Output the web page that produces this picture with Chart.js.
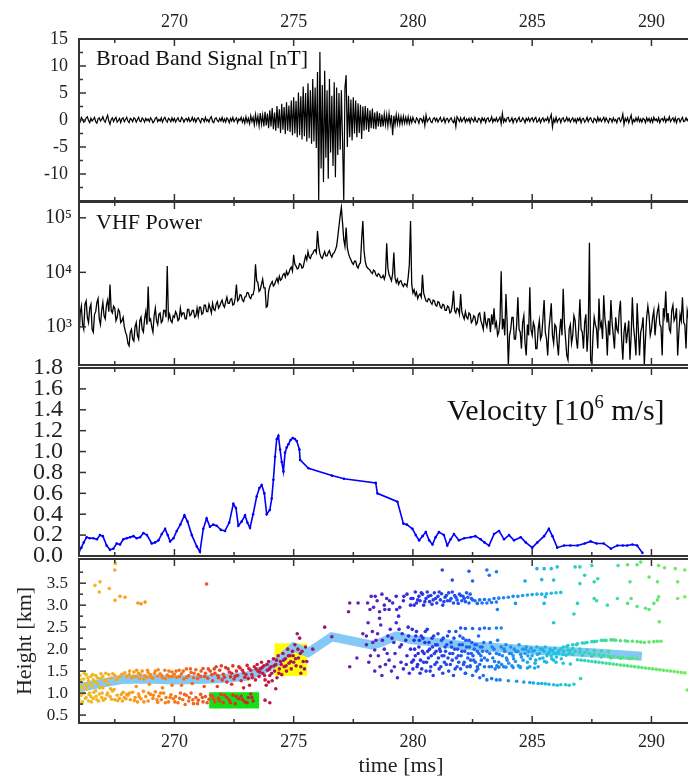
<!DOCTYPE html>
<html>
<head>
<meta charset="utf-8">
<script src="https://cdn.jsdelivr.net/npm/chart.js@4.4.1/dist/chart.umd.min.js"></script>
<style>
  html, body { margin: 0; padding: 0; background: #fff; overflow: hidden; width: 688px; height: 777px; }
  #wrap { position: relative; width: 730px; height: 777px; }
  canvas { position: absolute; left: 0; top: 0; }
  .lbl { position: absolute; font-family: "Liberation Serif", serif; color: #111; white-space: nowrap; line-height: 1; }
  .lbl sup { font-size: 0.62em; vertical-align: 0.62em; }
</style>
</head>
<body>
<div id="wrap">
  <canvas id="c1" width="730" height="777"></canvas>
  <canvas id="c2" width="730" height="777"></canvas>
  <canvas id="c3" width="730" height="777"></canvas>
  <canvas id="c4" width="730" height="777"></canvas>
  <div class="lbl" style="left:96px; top:47px; font-size:22px;">Broad Band Signal [nT]</div>
  <div class="lbl" style="left:96px; top:211px; font-size:22px;">VHF Power</div>
  <div class="lbl" style="left:447px; top:393px; font-size:30px;">Velocity [10<sup>6</sup> m/s]</div>
</div>
<script>
//----------------------------------DATA-------------------------------------

// shared time axis [ms]
const timeTicks = [270, 275, 280, 285, 290];
const timeMinor = [267.5, 272.5, 277.5, 282.5, 287.5, 292.5];

// broad band signal [nT], one sample every 0.05 ms from 266.0 ms (one row = 1 ms)
const bbStart = 266.0;
const bbStep = 0.05;
const bbSignal = [
  0.2,-0.3,0.5,0.1,-0.4,-0.2,0.4,0.6,-0.1,-0.5,0.3,-0.2,0.1,0.5,-0.3,-0.6,0.2,0.4,-0.2,0.1,
  0.6,-0.1,-0.4,0.3,0.9,-0.2,-0.8,0.1,0.4,-0.3,0.2,0.5,-0.4,-0.1,0.3,-0.5,0.2,0.4,-0.3,0.1,
  0.5,-0.2,-0.5,0.3,0.1,-0.3,0.4,0.2,-0.4,0.1,0.5,-0.2,-0.3,0.4,0.1,-0.4,0.3,-0.1,0.2,-0.3,
  0.4,0.1,-0.5,-0.2,0.3,0.5,-0.3,0.1,-0.2,0.4,-0.4,0.2,0.5,-0.1,-0.4,0.3,0.1,-0.3,0.4,-0.2,
  0.3,-0.4,0.1,0.4,-0.2,-0.3,0.5,0.2,-0.4,0.1,0.3,-0.2,0.4,-0.3,-0.1,0.5,-0.2,0.3,-0.4,0.2,
  0.4,-0.1,-0.5,0.3,0.2,-0.3,0.5,-0.2,0.1,-0.4,0.3,0.6,-0.3,-0.5,0.2,0.4,-0.1,-0.3,0.3,-0.2,
  0.5,-0.3,0.2,-0.4,0.4,0.1,-0.5,0.3,-0.2,0.5,-0.3,0.1,0.4,-0.5,0.2,-0.1,0.5,-0.4,0.3,-0.6,
  0.6,-0.4,0.3,-0.7,0.8,-0.3,0.5,-0.9,1.0,-0.6,0.7,-1.1,1.3,-0.8,0.9,-1.2,1.5,-1.0,1.2,-1.5,
  1.8,-1.2,2.2,-1.7,1.4,-2.0,2.6,-1.5,2.0,-2.4,3.0,-1.8,2.4,-2.6,3.3,-2.0,2.7,-2.2,3.6,-2.8,
  4.2,-2.5,3.5,-3.2,5.1,-2.8,4.4,-3.6,6.2,-3.0,5.0,-4.0,6.8,-3.4,5.5,-4.4,7.6,-4.0,6.0,-5.2,
  8.9,-15,12.6,-9.0,6.5,-11.5,9.1,-7.0,5.5,-10.9,7.6,-6.0,4.5,-8.5,7.0,-10.6,6.0,-6.5,5.0,-5.5,
  5.5,-4.0,-15,6.0,8.3,-5.0,4.5,-3.2,3.8,-3.8,4.2,-2.5,3.6,-3.2,3.1,-2.4,2.8,-3.5,2.5,-2.0,
  2.6,-1.8,2.2,-2.2,1.8,-1.5,2.1,-1.6,1.4,-1.7,1.6,-1.2,1.3,-1.3,1.0,-1.2,1.1,-0.9,1.0,-1.1,
  1.2,-0.8,0.9,-2.8,0.8,-0.9,1.0,-0.7,0.8,-0.8,0.6,-0.7,0.7,-0.6,0.5,-0.6,0.6,-0.7,0.4,-0.5,
  0.5,-0.2,-0.5,0.4,0.1,-0.6,0.3,0.2,-0.4,0.5,-1.0,0.9,-0.3,0.1,0.4,-0.3,-0.5,0.2,0.4,-0.2,
  0.3,-0.4,0.1,0.5,-0.3,-0.1,0.4,-0.5,0.2,0.3,-0.4,0.1,0.4,-0.2,-0.5,0.3,-1.2,0.6,0.2,-0.3,
  0.4,-0.3,0.1,0.5,-0.4,0.2,-0.2,0.3,-0.5,0.4,0.1,-0.3,0.5,-0.2,-0.4,0.3,0.2,-0.5,0.4,-0.1,
  0.3,-0.5,0.2,0.4,-0.3,-0.1,0.6,-0.4,0.2,-0.2,0.4,-0.3,0.1,0.5,-0.7,1.2,-0.4,0.2,-0.3,0.4,
  0.5,-0.3,-0.1,0.4,-0.5,0.2,0.3,-0.4,0.1,0.5,-0.3,-0.2,0.4,0.1,-0.5,0.3,-0.1,0.4,-0.3,0.2,
  0.4,-0.3,0.2,0.5,-0.4,-0.2,0.3,-0.5,0.1,0.4,-0.3,0.2,-0.1,0.5,-0.4,0.3,1.0,-1.3,0.2,-0.4,
  0.5,-0.4,0.1,0.3,-0.5,0.2,0.4,-0.3,-0.1,0.5,-0.2,0.3,-0.4,0.1,0.4,-0.3,0.2,-0.5,0.3,-0.1,
  0.4,-0.5,0.2,0.3,-0.4,-0.1,0.5,-0.3,0.2,0.4,-0.2,-0.5,0.3,0.1,-0.4,0.5,-0.2,0.3,-0.3,0.1,
  0.5,-0.3,0.4,-0.1,-0.5,0.3,0.2,-0.4,0.4,-0.2,0.1,-0.5,0.3,0.4,-0.3,0.1,1.1,-0.8,0.3,-0.2,
  0.4,-0.5,0.2,0.9,-0.6,0.1,-0.3,0.4,-0.2,0.5,-0.3,0.2,-0.4,0.3,0.1,-0.5,0.4,-0.2,0.3,-0.4,
  0.3,-0.4,0.5,-0.1,0.2,-0.3,0.4,-0.5,0.1,0.3,-0.2,0.5,-0.4,0.2,-0.1,0.6,-0.3,0.1,0.4,-0.3,
  0.4,-0.5,0.2,0.3,-0.4,0.1,0.5,-0.3,-0.2,0.4,-0.1,0.3,-0.5,0.2,0.4,-0.3,0.1,-0.4,0.3,-0.2
];
const bbTicks = [15, 10, 5, 0, -5, -10];
const bbMinor = [12.5, 7.5, 2.5, -2.5, -7.5, -12.5];

// VHF power, one sample every 0.05 ms from 266.0 ms (one row = 1 ms)
const vhfStart = 266.0;
const vhfStep = 0.05;
const vhfPower = [
  600,1800,2400,1100,900,2600,3000,1500,1200,2200,2600,900,800,1700,1900,2800,3300,1400,1100,2000,
  2800,1600,1400,2500,3100,1900,6000,2000,1800,2400,2200,1300,1500,2100,1900,1200,1300,1500,1000,800,
  700,500,450,800,900,600,550,1000,1200,700,600,1300,1500,900,800,1400,1900,1100,5500,1300,
  1400,1000,800,1600,2200,1300,1100,1700,1800,1200,1300,2000,2000,1500,13000,1400,1700,1300,1200,1600,
  1500,1900,1700,1300,1400,2200,1600,1800,1800,1400,1400,2100,2100,1600,1700,2000,2000,1500,1600,2200,
  1600,2300,2300,1700,1800,2500,2500,1900,1900,2600,2200,1800,2700,2100,2000,2600,2900,2200,2400,2800,
  3100,2500,2300,2900,3500,2700,2700,3200,3300,2500,2600,3400,6000,3000,3200,3900,3800,3100,2900,3500,
  3600,4300,4200,3500,3300,3900,3900,5000,14000,7000,6500,4500,4800,6000,7500,5200,5200,2300,2400,4500,
  5500,6200,6800,5600,6000,7000,7800,6500,8500,7200,7600,9000,9500,8200,10500,9000,9800,11500,12500,10500,
  21000,14000,13000,11500,12000,14500,14000,12000,12500,16000,20000,17000,24000,19000,18000,21000,22000,25000,26000,23000,
  57000,30000,22000,19000,18000,21000,24000,20000,20000,23000,25000,21000,19000,22000,23000,26000,30000,45000,70000,110000,
  155000,80000,40000,30000,66000,28000,22000,19000,17000,15000,14000,16000,16000,13000,12000,14000,15000,40000,87000,25000,
  16000,13000,12000,11500,11000,10000,9500,11000,10500,9000,8500,9500,9000,8000,8000,8800,7500,9000,34000,12000,
  9000,8000,7000,9500,23000,8000,6500,7500,6000,6800,7000,6000,5500,6200,6000,5500,8000,14000,87000,6000,
  4200,4800,3800,4300,3300,3800,4000,3500,9000,4200,3500,3000,2900,3300,3200,2800,2600,3100,3000,2500,
  2400,2900,2800,2300,2200,2600,2500,2000,2000,2400,2300,1800,1900,2500,4600,2000,1800,2200,2100,1700,
  4000,1900,1600,1400,1900,1500,1400,1800,1700,1200,1300,1600,1500,1100,1200,1700,1800,1300,1100,900,
  1900,1200,1000,1400,1400,800,1700,1100,2200,1000,1200,700,800,1300,10500,900,1400,700,4000,1200,
  200,700,900,1500,1500,600,600,1100,3500,900,800,400,1200,1600,500,300,1100,700,5300,900,
  700,1200,1000,400,400,900,1300,600,700,1400,3100,800,600,300,900,1500,2700,700,500,1100,
  1000,500,300,800,1400,700,5000,1200,600,300,250,900,1100,500,700,1600,1300,600,400,1000,
  3200,900,800,400,1200,1700,350,800,35000,250,200,700,1500,1100,900,400,3300,1000,1200,600,
  3800,1400,900,300,1300,700,3100,1200,700,400,1500,900,800,1900,3000,600,250,800,1200,500,
  800,1300,250,700,3500,1000,600,300,2700,900,300,800,1000,1500,200,600,1500,2400,1600,700,
  900,1500,2000,700,1300,1900,2400,1100,1000,300,2200,1600,4500,1200,1800,900,800,2000,2500,1300,
  1500,2200,300,800,1700,1300,3500,1200,1100,400,2000,1500,900,1800,1800,700,700,1400,1500,1000
];
const vhfTicks = [1e3, 1e4, 1e5];

// velocity [10^6 m/s]: [time ms, value]
const velocity = [
  [266.0,0.04],[266.1,0.08],[266.2,0.13],[266.32,0.18],[266.45,0.17],[266.6,0.17],[266.75,0.16],[266.88,0.2],
  [267.0,0.19],[267.16,0.1],[267.3,0.06],[267.44,0.07],[267.58,0.12],[267.72,0.11],[267.86,0.16],[268.0,0.17],
  [268.14,0.18],[268.28,0.19],[268.42,0.17],[268.56,0.18],[268.7,0.22],[268.85,0.2],[269.05,0.12],[269.19,0.13],
  [269.33,0.15],[269.47,0.21],[269.61,0.26],[269.72,0.2],[269.82,0.14],[269.96,0.17],[270.1,0.24],[270.25,0.3],
  [270.42,0.39],[270.55,0.33],[270.73,0.2],[270.94,0.09],[271.07,0.04],[271.21,0.26],[271.35,0.36],[271.49,0.28],
  [271.63,0.3],[271.77,0.29],[271.95,0.25],[272.12,0.24],[272.3,0.32],[272.47,0.5],[272.58,0.46],[272.68,0.29],
  [272.82,0.33],[272.96,0.39],[273.06,0.32],[273.17,0.27],[273.3,0.4],[273.45,0.57],[273.56,0.65],[273.66,0.68],
  [273.77,0.6],[273.87,0.4],[274.0,0.44],[274.08,0.55],[274.15,0.73],[274.22,0.95],[274.29,1.12],[274.36,1.15],
  [274.43,1.02],[274.5,0.9],[274.57,0.81],[274.64,0.99],[274.71,1.04],[274.78,1.07],[274.87,1.11],[274.96,1.13],
  [275.05,1.12],[275.13,1.1],[275.24,1.02],[275.27,0.92],[275.62,0.84],[276.6,0.77],[277.11,0.74],[278.44,0.7],
  [278.51,0.6],[279.35,0.52],[279.6,0.31],[279.75,0.3],[279.98,0.26],[280.12,0.2],[280.26,0.15],[280.4,0.19],
  [280.54,0.23],[280.68,0.15],[280.82,0.11],[280.95,0.18],[281.09,0.23],[281.3,0.2],[281.44,0.1],[281.58,0.16],
  [281.72,0.21],[281.93,0.15],[282.15,0.17],[282.42,0.18],[282.62,0.19],[282.84,0.16],[283.0,0.13],[283.19,0.1],
  [283.4,0.21],[283.61,0.24],[283.82,0.16],[284.03,0.2],[284.24,0.15],[284.52,0.18],[284.73,0.13],[285.0,0.08],
  [285.22,0.13],[285.5,0.19],[285.7,0.26],[285.85,0.19],[286.05,0.08],[286.34,0.1],[286.6,0.1],[286.9,0.1],
  [287.2,0.12],[287.45,0.14],[287.7,0.12],[288.0,0.12],[288.3,0.07],[288.57,0.1],[288.8,0.1],[288.99,0.1],
  [289.2,0.11],[289.4,0.1],[289.62,0.03]
];
const velTicks = [0, 0.2, 0.4, 0.6, 0.8, 1.0, 1.2, 1.4, 1.6, 1.8];

// source heights [km]: [time ms, height]
const heightPts = [
  [266.0,0.85],[266.0,1.05],[266.0,1.25],[266.05,1.4],[266.1,0.95],[266.1,1.15],[266.15,0.8],[266.2,1.32],[266.2,1.0],
  [266.25,1.2],[266.3,0.9],[266.3,1.42],[266.35,1.1],[266.4,0.82],[266.4,1.28],[266.45,1.0],[266.5,1.38],[266.5,0.92],
  [266.55,1.15],[266.6,0.88],[266.6,1.3],[266.7,1.05],[266.7,1.4],[266.75,0.85],[266.8,1.22],[266.85,0.98],[266.9,1.33],
  [266.95,0.9],[267.0,1.12],[267.0,1.38],[267.1,0.87],[267.15,1.3],[267.2,1.0],[267.25,1.42],[267.3,0.92],[267.35,1.34],
  [267.4,1.05],[267.5,0.85],[267.5,1.4],[267.6,0.95],[267.65,1.36],[267.7,0.88],[267.8,1.43],[267.85,1.02],[267.9,0.9],
  [268.0,1.38],[268.0,0.97],
  [266.02,0.95],[266.07,1.3],[266.12,0.78],[266.17,1.1],[266.22,1.45],[266.27,0.88],[266.32,1.18],[266.37,1.35],
  [266.42,0.97],[266.47,1.22],[266.52,0.8],[266.57,1.42],[266.62,1.02],[266.67,1.25],[266.72,0.93],[266.77,1.35],
  [266.82,0.82],[266.87,1.12],[266.92,1.44],[266.97,1.0],[267.02,0.84],[267.07,1.27],[267.12,1.45],[267.17,0.96],
  [267.22,1.2],[267.32,1.1],[267.37,0.86],[267.42,1.44],[267.47,1.08],[267.57,1.3],[267.62,0.83],[267.72,1.38],
  [267.77,0.97],[267.82,0.82],[267.92,1.46],[267.97,0.87],
  [266.67,3.45],[266.88,3.53],[266.85,3.3],[267.27,3.38],[267.51,3.11],[267.5,3.8],[267.52,3.95],[267.72,3.2],
  [267.93,3.18],[268.47,3.05],[268.6,3.03],[268.77,3.07],
  [268.1,1.42],[268.2,1.35],[268.3,1.48],[268.4,1.38],[268.5,1.45],[268.55,1.33],[268.65,1.5],[268.75,1.4],[268.85,1.36],
  [268.9,1.47],[269.0,1.42],[269.1,1.34],[269.2,1.5],[269.3,1.39],[269.4,1.44],[269.5,1.35],[269.6,1.52],[269.7,1.41],
  [269.8,1.37],[269.9,1.48],[270.0,1.43],
  [268.12,1.5],[268.27,1.38],[268.42,1.52],[268.57,1.42],[268.72,1.32],[268.87,1.52],[269.02,1.36],[269.17,1.45],
  [269.32,1.53],[269.47,1.4],[269.62,1.33],[269.77,1.5],[269.92,1.38],[270.07,1.5],[270.22,1.38],[270.37,1.5],
  [270.52,1.36],[270.67,1.55],[270.82,1.45],[270.97,1.33],[271.12,1.5],[271.27,1.38],[271.42,1.55],
  [268.05,0.95],[268.15,0.85],[268.25,1.02],[268.35,0.9],[268.45,0.8],[268.5,0.98],[268.6,0.87],[268.7,1.04],[268.8,0.92],
  [268.9,0.82],[269.0,0.97],[269.1,0.88],[269.2,1.03],[269.3,0.79],[269.35,0.93],[269.45,0.85],[269.55,1.0],[269.65,0.9],
  [269.75,0.8],[269.85,0.96],[269.95,0.87],
  [268.12,1.0],[268.32,0.83],[268.52,0.92],[268.72,0.8],[268.92,1.0],[269.12,0.95],[269.27,0.85],[269.42,1.0],
  [269.62,0.78],[269.82,0.9],[270.02,0.8],[270.22,0.88],[270.42,0.97],[270.62,0.9],[270.77,0.85],[270.97,0.76],
  [271.17,0.9],[271.37,0.78],[271.52,0.95],
  [268.4,1.15],[268.95,1.2],[269.5,1.12],[269.9,1.18],
  [270.1,1.36],[270.2,1.52],[270.3,1.44],[270.4,1.32],[270.5,1.55],[270.6,1.4],[270.7,1.47],[270.8,1.35],[270.9,1.53],
  [271.0,1.42],[271.1,1.38],[271.2,1.56],[271.3,1.45],[271.4,1.34],[271.5,1.5],
  [270.05,0.92],[270.15,0.78],[270.25,1.0],[270.35,0.85],[270.45,0.74],[270.5,0.95],[270.6,0.82],[270.7,1.0],[270.8,0.76],
  [270.9,0.9],[271.0,0.84],[271.1,0.97],[271.2,0.8],[271.3,0.92],[271.45,0.86],
  [270.3,1.18],[270.75,1.22],[271.25,1.15],[271.35,3.48],
  [271.6,1.28],[271.7,1.45],[271.75,1.6],[271.85,1.35],[271.9,1.52],[272.0,1.3],[272.05,1.43],[272.15,1.58],[272.2,1.25],
  [272.3,1.48],[272.35,1.37],[272.45,1.62],[272.5,1.32],[272.6,1.5],[272.65,1.4],[272.75,1.57],[272.8,1.28],[272.9,1.46],
  [272.95,1.36],[273.05,1.63],[273.1,1.33],[273.2,1.52],[273.25,1.42],[273.35,1.6],[273.4,1.3],[273.5,1.5],
  [271.57,1.42],[271.67,1.55],[271.82,1.4],[271.97,1.62],[272.1,1.36],[272.25,1.55],[272.4,1.45],[272.55,1.38],
  [272.7,1.6],[272.85,1.52],[273.0,1.42],[273.12,1.56],[273.27,1.35],[273.42,1.55],[273.47,1.65],
  [271.6,0.92],[271.7,0.8],[271.85,0.88],[271.95,0.97],[272.05,0.78],[272.2,0.9],[272.3,0.84],[272.45,0.95],[272.55,0.76],
  [272.7,0.87],[272.8,0.93],[272.95,0.8],[273.1,0.9],[273.2,0.98],[273.3,0.82],
  [271.65,0.86],[271.9,0.82],[272.1,0.95],[272.35,0.78],[272.6,0.92],[272.85,0.85],[273.05,0.78],[273.25,0.9],
  [271.8,1.15],[272.4,1.2],[272.9,1.12],[273.15,1.18],
  [273.55,1.38],[273.6,1.55],[273.65,1.7],[273.7,1.45],[273.75,1.62],[273.8,1.3],[273.8,0.84],[273.85,1.18],[273.9,1.52],
  [273.95,1.72],[274.0,1.4],[274.0,0.78],[274.05,1.6],[274.1,1.28],[274.15,1.78],[274.2,1.5],[274.25,1.65],[274.3,1.35],
  [274.35,1.85],[274.4,1.55],[274.45,1.72],[274.5,1.42],[274.55,1.9],[274.6,1.6],[274.65,1.78],[274.7,1.5],[274.75,2.0],
  [274.8,1.68],[274.85,1.85],[274.9,1.55],[274.95,1.95],[275.0,1.7],[275.05,2.1],[275.1,1.62],[275.15,2.35],[275.2,1.8],
  [275.25,2.25],[275.3,1.6],[275.35,1.95],[275.45,1.55],[275.55,1.72],[275.3,1.45],[273.95,1.25],[274.25,1.1],
  [273.58,1.48],[273.68,1.58],[273.78,1.4],[273.88,1.65],[273.98,1.55],[274.08,1.45],[274.18,1.62],[274.28,1.75],
  [274.38,1.45],[274.48,1.65],[274.58,1.75],[274.68,1.62],[274.78,1.85],[274.88,1.72],[274.98,1.85],[275.08,1.78],
  [275.18,2.0],[275.28,1.9],[275.4,1.72],[275.5,2.05],
  [275.8,2.0],[276.3,2.5],[276.6,2.28],[277.3,2.85],[277.35,3.05],[277.7,3.05],[277.35,1.6],[277.65,1.8],[277.9,2.35],
  [278.05,2.3],[278.2,2.9],[278.4,1.98],
  [278.1,3.05],[278.25,3.2],[278.35,2.95],[278.5,3.1],[278.6,2.85],[278.7,3.25],[278.8,3.0],[278.9,3.15],[279.0,2.9],
  [279.15,3.05],[279.3,3.2],[279.45,2.95],[279.6,3.1],[279.75,3.25],[279.9,3.0],
  [278.05,2.1],[278.15,1.7],[278.3,2.4],[278.4,1.5],[278.45,2.2],[278.55,1.85],[278.65,2.55],[278.7,1.4],[278.8,2.0],
  [278.85,1.65],[278.95,2.3],[279.0,1.75],[279.05,2.45],[279.1,1.5],[279.2,2.15],[279.25,1.9],[279.3,2.6],[279.35,1.35],
  [279.45,2.05],[279.5,1.7],[279.55,2.35],[279.6,1.55],[279.7,2.2],[279.75,1.85],[279.8,2.5],[279.85,1.45],[279.9,2.0],
  [279.95,1.7],[278.6,2.7],[279.4,2.75],
  [278.12,2.6],[278.22,1.85],[278.32,2.15],[278.42,3.2],[278.52,2.35],[278.62,1.6],[278.72,2.2],[278.82,2.9],
  [278.92,1.9],[279.02,3.1],[279.12,2.25],[279.22,1.6],[279.32,2.9],[279.42,2.45],[279.52,2.1],[279.62,3.2],
  [279.72,1.65],[279.82,2.3],[279.92,3.15],[279.97,2.45],
  [280.0,3.15],[280.1,3.3],[280.15,3.05],[280.25,3.2],[280.3,3.1],[280.4,3.25],[280.45,3.0],[280.55,3.15],[280.6,3.3],
  [280.7,3.08],[280.75,3.22],[280.85,3.12],[280.9,3.28],[281.0,3.05],[281.05,3.2],[281.15,3.12],[281.2,3.26],[281.3,3.08],
  [281.35,3.18],[281.45,3.1],[281.5,3.28],[281.6,3.15],[281.7,3.05],[281.75,3.22],[281.85,3.12],[281.95,3.25],[282.05,3.1],
  [282.1,3.2],[282.2,3.08],[282.3,3.18],[282.4,3.25],[282.5,3.12],
  [280.05,3.0],[280.2,3.12],[280.35,3.28],[280.5,3.08],[280.65,3.2],[280.8,3.02],[280.95,3.15],[281.1,3.3],[281.25,3.0],
  [281.4,3.22],[281.55,3.1],[281.65,3.3],[281.8,3.18],[281.9,3.04],[282.0,3.22],[282.15,3.15],[282.25,3.28],[282.35,3.05],
  [282.45,3.15],
  [282.6,3.1],[282.8,3.12],[283.0,3.13],[283.2,3.12],[283.4,3.15],[283.6,3.16],[283.8,3.17],[284.0,3.18],[284.2,3.2],
  [284.4,3.2],[284.6,3.22],[284.8,3.23],[285.0,3.24],[285.2,3.25],[285.4,3.25],[285.6,3.26],[285.8,3.27],[286.0,3.28],
  [286.2,3.29],[282.7,3.04],[282.9,3.05],[283.1,3.05],[283.3,3.06],[283.5,3.07],
  [280.0,1.55],[280.05,2.2],[280.1,1.85],[280.15,2.4],[280.2,1.65],[280.25,2.05],[280.3,1.45],[280.35,2.3],[280.4,1.95],
  [280.45,1.7],[280.5,2.15],[280.55,1.5],[280.6,2.45],[280.65,1.8],[280.7,2.0],[280.75,1.6],[280.8,2.25],[280.85,1.4],
  [280.9,1.9],[280.95,2.1],[281.0,1.7],[281.05,2.35],[281.1,1.55],[281.15,1.95],[281.2,2.2],[281.25,1.45],[281.3,1.85],
  [281.35,2.05],[281.4,1.65],[281.45,2.3],[281.5,1.5],[281.55,1.9],[281.6,2.15],[281.65,1.75],[281.7,1.4],[281.75,2.0],
  [281.8,2.4],[281.85,1.6],[281.9,1.85],[281.95,2.1],[282.0,1.55],[282.05,1.95],[282.1,2.25],[282.15,1.7],[282.2,1.45],
  [282.25,2.05],[282.3,1.8],[282.35,2.2],[282.4,1.6],[282.45,1.9],[282.5,2.47],[282.55,1.75],[282.6,2.1],[282.65,1.5],
  [282.7,1.95],[282.75,2.3],[282.8,1.65],[282.85,1.85],[282.9,2.05],[282.95,1.4],[283.0,2.48],[283.0,1.8],
  [280.02,1.75],[280.07,2.0],[280.12,2.3],[280.17,1.6],[280.22,1.9],[280.27,2.2],[280.32,1.75],[280.37,1.55],
  [280.42,2.25],[280.47,1.9],[280.52,2.4],[280.57,1.7],[280.62,1.95],[280.67,2.15],[280.72,1.5],[280.77,1.85],
  [280.82,2.05],[280.87,2.3],[280.92,1.65],[280.97,1.95],[281.02,2.1],[281.07,1.8],[281.12,2.0],[281.17,1.6],
  [281.22,1.85],[281.27,2.25],[281.32,1.7],[281.37,1.95],[281.42,2.1],[281.47,1.8],[281.52,2.4],[281.57,1.65],
  [281.62,2.05],[281.67,1.9],[281.72,2.25],[281.77,1.55],[281.82,1.8],[281.87,2.0],[281.92,1.7],[281.97,2.3],
  [282.02,1.85],[282.07,2.1],[282.12,1.65],[282.17,1.95],[282.22,2.2],[282.27,1.6],[282.32,1.9],[282.37,2.05],
  [282.42,1.75],[282.47,2.15],[282.52,1.85],[282.57,2.0],[282.62,1.7],[282.67,2.1],[282.72,1.55],[282.77,1.9],
  [282.82,2.05],[282.87,1.75],[282.92,1.95],[282.97,2.15],
  [282.0,2.48],[282.2,2.47],[282.8,2.46],[283.2,2.47],[283.5,2.48],[283.7,2.48],
  [283.1,1.95],[283.2,1.6],[283.25,2.15],[283.3,1.33],[283.35,1.8],[283.4,2.0],[283.45,1.55],[283.5,1.9],[283.55,2.2],
  [283.6,1.7],[283.65,1.3],[283.7,2.05],[283.75,1.85],[283.8,1.6],[283.85,1.95],[283.9,2.1],[283.95,1.75],[284.0,1.28],
  [284.05,1.9],[284.1,2.05],[284.15,1.62],[284.2,1.85],[284.25,2.0],[284.3,1.72],[284.35,1.27],[284.4,1.95],[284.45,2.1],
  [284.5,1.6],[284.55,1.82],[284.6,2.0],[284.65,1.25],[284.7,1.9],[284.75,2.05],[284.8,1.7],[284.85,1.95],[284.9,1.6],
  [284.95,2.02],[285.0,1.85],[285.05,1.23],[285.1,1.97],[285.15,1.75],[285.2,2.05],[285.25,1.6],[285.3,1.9],[285.35,2.0],
  [285.4,1.22],[285.45,1.8],[285.5,1.95],[285.55,2.05],[285.6,1.7],[285.65,1.9],[285.7,1.2],[285.75,2.0],[285.8,1.85],
  [285.85,1.97],[285.9,1.75],[285.95,2.02],[286.0,1.9],[286.05,1.18],[286.1,1.95],[286.2,2.0],[286.3,1.88],[286.4,1.19],
  [286.5,1.98],[286.75,1.2],
  [283.12,1.75],[283.22,1.9],[283.32,2.05],[283.42,1.72],[283.52,1.62],[283.62,1.88],[283.72,1.65],[283.82,2.0],
  [283.92,1.8],[284.02,1.68],[284.12,1.9],[284.22,1.78],[284.32,1.95],[284.42,1.62],[284.52,1.88],[284.62,1.75],
  [284.72,2.0],[284.82,1.85],[284.92,1.78],[285.02,1.95],[285.12,1.68],[285.22,1.88],[285.32,1.78],[285.42,2.0],
  [285.52,1.72],[285.62,1.85],[285.72,1.93],[285.82,1.78],[285.92,1.9],[286.02,1.82],[286.12,1.9],[286.22,1.78],
  [286.32,1.95],[286.42,1.86],[286.55,1.9],
  [284.9,1.24],[285.25,1.22],[285.55,1.21],[285.9,1.19],[286.2,1.19],[286.55,1.18],
  [282.4,1.62],[282.7,1.6],[283.0,1.6],[283.3,1.6],[283.6,1.59],[283.9,1.59],[284.2,1.58],[284.5,1.58],[284.8,1.57],
  [285.1,1.57],[282.2,1.45],[282.5,1.4],[282.8,1.35],[283.1,1.3],[283.5,1.3],
  [286.3,2.05],[286.5,2.08],[286.7,2.1],[286.9,2.12],[287.1,2.14],[287.3,2.15],[287.5,2.17],[287.7,2.18],[287.9,2.2],
  [288.1,2.2],[288.3,2.21],[288.5,2.2],[288.7,2.19],[289.0,2.18],[289.4,2.17],[289.7,2.15],[290.1,2.17],[290.4,2.18],
  [286.45,2.06],[286.85,2.1],[287.2,2.14],[287.6,2.17],[288.0,2.2],[288.4,2.21],[288.9,2.19],[289.2,2.18],[289.55,2.16],
  [289.9,2.16],[290.25,2.18],
  [286.6,1.97],[286.8,1.95],[287.0,1.93],[287.2,1.92],[287.4,1.9],[287.6,1.88],[287.8,1.87],[288.0,1.86],[288.2,1.84],
  [288.4,1.83],[288.6,1.82],[288.8,1.81],[289.0,1.8],[289.2,1.8],
  [286.7,1.88],[287.1,1.86],[287.5,1.84],[287.9,1.82],[288.3,1.8],[288.7,1.79],[289.1,1.78],[289.4,1.79],
  [286.7,2.02],[287.0,2.0],[287.3,1.98],[287.6,1.97],[287.9,1.96],[288.2,1.95],
  [286.9,1.76],[287.2,1.74],[287.5,1.72],[287.8,1.7],[288.1,1.68],[288.4,1.66],[288.7,1.64],[289.0,1.62],[289.3,1.6],
  [289.6,1.58],[289.9,1.56],[290.2,1.54],[290.5,1.52],[290.8,1.5],[291.1,1.48],[291.4,1.46],
  [287.05,1.75],[287.35,1.73],[287.65,1.71],[287.95,1.69],[288.25,1.67],[288.55,1.65],[288.85,1.63],[289.15,1.61],
  [289.45,1.59],[289.75,1.57],[290.05,1.55],[290.35,1.53],[290.65,1.51],[290.95,1.49],[291.25,1.47],
  [286.0,1.7],[286.3,1.68],[286.6,1.66],[287.03,1.33],[291.5,1.07],
  [281.23,3.8],[282.35,3.77],[283.1,3.8],[283.5,3.76],[281.65,3.57],[282.5,3.55],[283.2,3.68],[284.7,3.55],[285.2,3.83],
  [285.5,3.83],[285.8,3.83],[285.4,3.58],[285.9,3.57],[286.05,3.87],[286.8,3.87],[287.0,3.87],[287.2,3.68],[287.0,3.49],
  [287.5,3.9],[287.6,3.53],[287.75,3.6],[288.6,3.9],[289.0,3.92],[289.4,3.92],[289.1,3.53],[289.55,3.98],[289.9,3.64],
  [290.25,3.53],[290.3,3.9],[290.55,3.85],[291.0,3.83],[291.1,3.53],[291.4,3.8],
  [286.9,3.04],[287.6,3.15],[287.7,3.1],[288.15,3.0],[288.57,3.15],[289.0,3.04],[289.15,3.15],[289.4,2.97],[289.75,2.93],
  [289.9,2.9],[290.1,3.04],[290.25,3.12],[290.3,3.19],[291.1,3.15],[291.4,3.19],[283.54,2.9],[284.3,3.04],[285.5,3.04],
  [285.55,3.19],[286.75,2.8],[285.9,2.6],[290.33,2.62]
];
// fitted leader path [time ms, height km]
const leaderPath = [
  [266.0,1.12],[266.9,1.22],[267.8,1.31],[268.8,1.32],[270.0,1.3],[271.0,1.31],[272.0,1.33],[273.0,1.38],[273.7,1.52],
  [274.3,1.71],[275.0,2.05],[275.6,1.92],[276.6,2.28],[278.3,2.09],[278.6,2.14],[279.3,2.3],[279.9,2.22],[282.0,2.09],
  [285.0,1.98],[287.5,1.92],[289.6,1.84]
];
// highlighted boxes: [t0, t1, h0, h1]
const yellowBox = [274.2, 275.56, 1.39, 2.13];
const greenBox = [271.46, 273.55, 0.65, 1.02];
const heightTicks = [0.5, 1.0, 1.5, 2.0, 2.5, 3.0, 3.5];
const heightMinor = [0.75, 1.25, 1.75, 2.25, 2.75, 3.25, 3.75];

//----------------------------------STYLE-------------------------------------

const SERIF = '"Liberation Serif", "DejaVu Serif", serif';
const INK = '#222';

// colour by time: yellow -> red -> violet -> blue -> green
const cmap = [
  [266, [232,196,40]], [267.5, [245,170,35]], [269, [248,140,25]], [271, [240,95,30]], [272.5, [220,45,40]],
  [274, [190,20,70]], [275.5, [160,20,110]], [277, [125,30,150]], [278.5, [90,35,190]], [280, [45,45,225]],
  [282, [30,85,240]], [284, [30,140,240]], [286, [30,195,225]], [287.5, [50,215,180]], [289, [85,228,120]],
  [291.5, [115,238,85]]
];
function colorAt(t) {
  if (t <= cmap[0][0]) return 'rgb(' + cmap[0][1].join(',') + ')';
  for (let i = 1; i < cmap.length; i++) {
    if (t <= cmap[i][0]) {
      const [t0, c0] = cmap[i - 1], [t1, c1] = cmap[i];
      const f = (t - t0) / (t1 - t0);
      return 'rgb(' + c0.map((c, k) => Math.round(c + (c1[k] - c) * f)).join(',') + ')';
    }
  }
  return 'rgb(' + cmap[cmap.length - 1][1].join(',') + ')';
}

//----------------------------------HELPERS-------------------------------------

function xAxis(extra) {
  return Object.assign({
    type: 'linear', min: 266, max: 293,
    grid: { display: false, drawTicks: false }, border: { display: false },
    afterBuildTicks: s => { s.ticks = timeTicks.map(v => ({ value: v })); },
    ticks: { font: { family: SERIF, size: 18 }, color: INK, maxRotation: 0, autoSkip: false }
  }, extra);
}

function yAxis(ticks, labelPad, fontSize, extra) {
  return Object.assign({
    grid: { display: false, drawTicks: false }, border: { display: false },
    afterBuildTicks: s => { s.ticks = ticks.map(v => ({ value: v })); },
    afterFit: s => { s.width = 79; },
    ticks: { font: { family: SERIF, size: fontSize }, color: INK, padding: labelPad, autoSkip: false }
  }, extra);
}

// box, inward tick marks
function framePlugin(yMajor, yMinor) {
  return {
    id: 'frame',
    afterDatasetsDraw(chart) {
      const { ctx, chartArea: a, scales: { x, y } } = chart;
      const seg = (x0, y0, x1, y1) => { ctx.beginPath(); ctx.moveTo(x0, y0); ctx.lineTo(x1, y1); ctx.stroke(); };
      ctx.save();
      ctx.strokeStyle = '#333';
      ctx.lineWidth = 1.5;
      timeTicks.forEach(v => { const p = x.getPixelForValue(v); seg(p, a.top, p, a.top + 7); seg(p, a.bottom, p, a.bottom - 7); });
      timeMinor.forEach(v => { const p = x.getPixelForValue(v); seg(p, a.top, p, a.top + 4); seg(p, a.bottom, p, a.bottom - 4); });
      yMajor.forEach(v => { const p = y.getPixelForValue(v); seg(a.left, p, a.left + 7, p); seg(a.right, p, a.right - 7, p); });
      yMinor.forEach(v => { const p = y.getPixelForValue(v); seg(a.left, p, a.left + 4, p); seg(a.right, p, a.right - 4, p); });
      ctx.lineWidth = 2;
      ctx.strokeRect(a.left, a.top, a.right - a.left, a.bottom - a.top);
      ctx.restore();
    }
  };
}

const base = {
  animation: false, responsive: false, devicePixelRatio: 1,
  plugins: { legend: { display: false }, tooltip: { enabled: false } }
};

//----------------------------------BROAD BAND-------------------------------------

new Chart(document.getElementById('c1'), {
  type: 'line',
  data: { datasets: [{
    data: bbSignal.map((v, i) => ({ x: bbStart + i * bbStep, y: v })),
    borderColor: '#000', borderWidth: 1.2, pointRadius: 0, tension: 0
  }] },
  options: Object.assign({}, base, {
    layout: { padding: { top: 0, left: 0, right: 7, bottom: 777 - 201 } },
    scales: {
      x: xAxis({ position: 'top', afterFit: s => { s.height = 39; },
        ticks: { font: { family: SERIF, size: 18 }, color: INK, maxRotation: 0, autoSkip: false, padding: 6 } }),
      y: yAxis(bbTicks, 11, 18, { min: -15, max: 15 })
    }
  }),
  plugins: [framePlugin(bbTicks, bbMinor)]
});

//----------------------------------VHF POWER-------------------------------------

const supDigits = { 3: '\u00B3', 4: '\u2074', 5: '\u2075' };
new Chart(document.getElementById('c2'), {
  type: 'line',
  data: { datasets: [{
    data: vhfPower.map((v, i) => ({ x: vhfStart + i * vhfStep, y: v })),
    borderColor: '#000', borderWidth: 1.3, pointRadius: 0, tension: 0
  }] },
  options: Object.assign({}, base, {
    layout: { padding: { top: 202, left: 0, right: 7, bottom: 777 - 365 } },
    scales: {
      x: xAxis({ display: false }),
      y: yAxis(vhfTicks, 7, 20, { type: 'logarithmic', min: 200, max: 195000,
        ticks: { font: { family: SERIF, size: 20 }, color: INK, padding: 7, autoSkip: false,
          callback: v => '10' + supDigits[Math.round(Math.log10(v))] } })
    }
  }),
  plugins: [framePlugin(vhfTicks, [])]
});

//----------------------------------VELOCITY-------------------------------------

new Chart(document.getElementById('c3'), {
  type: 'line',
  data: { datasets: [{
    data: velocity.map(p => ({ x: p[0], y: p[1] })),
    borderColor: 'rgb(0,0,250)', backgroundColor: 'rgb(0,0,250)', borderWidth: 1.6,
    pointRadius: 1.3, pointBorderWidth: 0, tension: 0
  }] },
  options: Object.assign({}, base, {
    layout: { padding: { top: 368, left: 0, right: 7, bottom: 777 - 556 } },
    scales: {
      x: xAxis({ display: false }),
      y: yAxis(velTicks, 16, 24, { min: 0, max: 1.8,
        ticks: { font: { family: SERIF, size: 24 }, color: INK, padding: 16, autoSkip: false,
          callback: v => v.toFixed(1) } })
    }
  }),
  plugins: [framePlugin(velTicks, [])]
});

//----------------------------------HEIGHT-------------------------------------

const boxesPlugin = {
  id: 'boxes',
  beforeDatasetsDraw(chart) {
    const { ctx, scales: { x, y } } = chart;
    const fill = (b, color) => {
      const x0 = x.getPixelForValue(b[0]), x1 = x.getPixelForValue(b[1]);
      const y0 = y.getPixelForValue(b[3]), y1 = y.getPixelForValue(b[2]);
      ctx.fillStyle = color;
      ctx.fillRect(x0, y0, x1 - x0, y1 - y0);
    };
    ctx.save();
    fill(yellowBox, 'rgb(255,255,0)');
    fill(greenBox, 'rgb(20,225,20)');
    ctx.restore();
  }
};

new Chart(document.getElementById('c4'), {
  type: 'scatter',
  data: { datasets: [
    {
      data: leaderPath.map(p => ({ x: p[0], y: p[1] })),
      showLine: true, borderColor: 'rgba(125,198,245,0.95)', borderWidth: 9,
      pointRadius: 0, tension: 0, order: 2
    },
    {
      data: heightPts.map(p => ({ x: p[0], y: p[1] })),
      pointBackgroundColor: heightPts.map(p => colorAt(p[0])),
      pointRadius: 1.8, pointBorderWidth: 0, order: 1
    }
  ] },
  options: Object.assign({}, base, {
    layout: { padding: { top: 559, left: 0, right: 7, bottom: 0 } },
    scales: {
      x: xAxis({ position: 'bottom', afterFit: s => { s.height = 54; },
        ticks: { font: { family: SERIF, size: 18 }, color: INK, maxRotation: 0, autoSkip: false, padding: 8 },
        title: { display: true, text: 'time [ms]', color: INK,
          font: { family: SERIF, size: 22, lineHeight: 1 }, padding: { top: 0, bottom: 0 } } }),
      y: yAxis(heightTicks, 11, 17, { min: 0.32, max: 4.05,
        ticks: { font: { family: SERIF, size: 17 }, color: INK, padding: 11, autoSkip: false,
          callback: v => v.toFixed(1) },
        title: { display: true, text: 'Height [km]', color: INK,
          font: { family: SERIF, size: 22, lineHeight: 1 }, padding: { top: 14, bottom: 0 } } })
    }
  }),
  plugins: [boxesPlugin, framePlugin(heightTicks, heightMinor)]
});
</script>
</body>
</html>
